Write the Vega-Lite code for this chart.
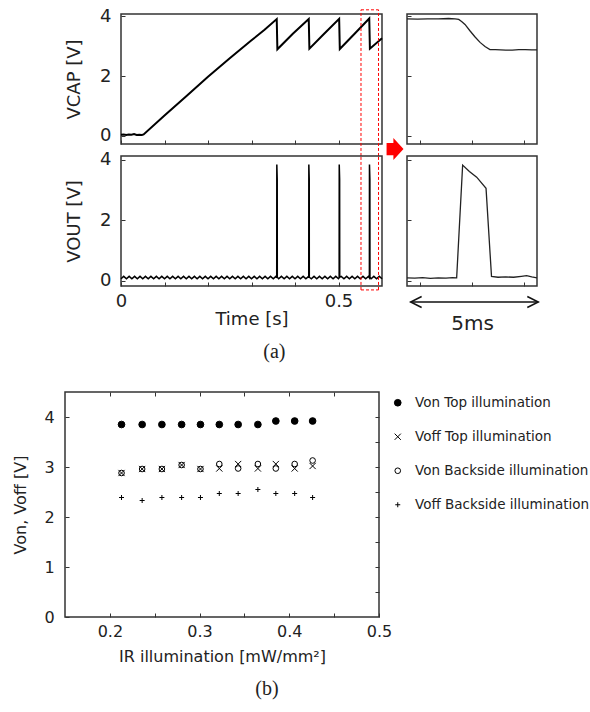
{
  "$schema": "https://vega.github.io/schema/vega-lite/v6.json",
  "background": "white",
  "padding": {"left": 11, "top": 6, "right": 0, "bottom": 0},
  "spacing": 27,
  "resolve": {"legend": {"shape": "independent", "fill": "independent", "size": "independent", "stroke": "independent"}},
  "config": {
    "font": "DejaVu Sans",
    "view": {"stroke": "#333", "strokeWidth": 1.5},
    "axis": {"domain": false, "grid": false, "tickColor": "#333", "tickWidth": 1, "labelColor": "#222", "titleColor": "#222", "titleFontWeight": "normal", "labelFont": "DejaVu Sans", "titleFont": "DejaVu Sans", "labelFlush": false, "labelOverlap": false},
    "title": {"font": "Liberation Serif", "fontSize": 20, "fontWeight": "normal", "color": "#222"}
  },
  "datasets": {
    "vcap": [
      {"t": 0, "v": 0.04}, {"t": 0.006, "v": 0.05}, {"t": 0.012, "v": 0.03}, {"t": 0.018, "v": 0.05}, {"t": 0.024, "v": 0.04}, {"t": 0.03, "v": 0.06}, {"t": 0.036, "v": 0.03}, {"t": 0.042, "v": 0.04}, {"t": 0.048, "v": 0.03}, {"t": 0.052, "v": 0.05},
      {"t": 0.1, "v": 0.68}, {"t": 0.15, "v": 1.33}, {"t": 0.2, "v": 1.98}, {"t": 0.25, "v": 2.6}, {"t": 0.3, "v": 3.2}, {"t": 0.33, "v": 3.55}, {"t": 0.358, "v": 3.91},
      {"t": 0.3595, "v": 2.9}, {"t": 0.395, "v": 3.42}, {"t": 0.4316, "v": 3.91},
      {"t": 0.4331, "v": 2.92}, {"t": 0.467, "v": 3.42}, {"t": 0.5015, "v": 3.92},
      {"t": 0.503, "v": 2.91}, {"t": 0.537, "v": 3.42}, {"t": 0.5707, "v": 3.93},
      {"t": 0.5722, "v": 2.92}, {"t": 0.6, "v": 3.27}
    ],
    "vout": [
      {"t": 0, "v": 0.07}, {"t": 0.00625, "v": 0.15}, {"t": 0.0125, "v": 0.07}, {"t": 0.01875, "v": 0.15}, {"t": 0.025, "v": 0.07}, {"t": 0.03125, "v": 0.15}, {"t": 0.0375, "v": 0.07}, {"t": 0.04375, "v": 0.15}, {"t": 0.05, "v": 0.07}, {"t": 0.05625, "v": 0.15},
      {"t": 0.0625, "v": 0.07}, {"t": 0.06875, "v": 0.15}, {"t": 0.075, "v": 0.07}, {"t": 0.08125, "v": 0.15}, {"t": 0.0875, "v": 0.07}, {"t": 0.09375, "v": 0.15}, {"t": 0.1, "v": 0.07}, {"t": 0.10625, "v": 0.15}, {"t": 0.1125, "v": 0.07}, {"t": 0.11875, "v": 0.15},
      {"t": 0.125, "v": 0.07}, {"t": 0.13125, "v": 0.15}, {"t": 0.1375, "v": 0.07}, {"t": 0.14375, "v": 0.15}, {"t": 0.15, "v": 0.07}, {"t": 0.15625, "v": 0.15}, {"t": 0.1625, "v": 0.07}, {"t": 0.16875, "v": 0.15}, {"t": 0.175, "v": 0.07}, {"t": 0.18125, "v": 0.15},
      {"t": 0.1875, "v": 0.07}, {"t": 0.19375, "v": 0.15}, {"t": 0.2, "v": 0.07}, {"t": 0.20625, "v": 0.15}, {"t": 0.2125, "v": 0.07}, {"t": 0.21875, "v": 0.15}, {"t": 0.225, "v": 0.07}, {"t": 0.23125, "v": 0.15}, {"t": 0.2375, "v": 0.07}, {"t": 0.24375, "v": 0.15},
      {"t": 0.25, "v": 0.07}, {"t": 0.25625, "v": 0.15}, {"t": 0.2625, "v": 0.07}, {"t": 0.26875, "v": 0.15}, {"t": 0.275, "v": 0.07}, {"t": 0.28125, "v": 0.15}, {"t": 0.2875, "v": 0.07}, {"t": 0.29375, "v": 0.15}, {"t": 0.3, "v": 0.07}, {"t": 0.30625, "v": 0.15},
      {"t": 0.3125, "v": 0.07}, {"t": 0.31875, "v": 0.15}, {"t": 0.325, "v": 0.07}, {"t": 0.33125, "v": 0.15}, {"t": 0.3375, "v": 0.07}, {"t": 0.34375, "v": 0.15}, {"t": 0.35, "v": 0.07}, {"t": 0.35625, "v": 0.15},
      {"t": 0.358, "v": 0.1}, {"t": 0.3582, "v": 3.85}, {"t": 0.3591, "v": 3.35}, {"t": 0.3593, "v": 0.12},
      {"t": 0.3625, "v": 0.07}, {"t": 0.36875, "v": 0.15}, {"t": 0.375, "v": 0.07}, {"t": 0.38125, "v": 0.15}, {"t": 0.3875, "v": 0.07}, {"t": 0.39375, "v": 0.15}, {"t": 0.4, "v": 0.07}, {"t": 0.40625, "v": 0.15}, {"t": 0.4125, "v": 0.07}, {"t": 0.41875, "v": 0.15}, {"t": 0.425, "v": 0.07}, {"t": 0.43125, "v": 0.15},
      {"t": 0.4316, "v": 0.1}, {"t": 0.4318, "v": 3.85}, {"t": 0.4327, "v": 3.35}, {"t": 0.4329, "v": 0.12},
      {"t": 0.4375, "v": 0.07}, {"t": 0.44375, "v": 0.15}, {"t": 0.45, "v": 0.07}, {"t": 0.45625, "v": 0.15}, {"t": 0.4625, "v": 0.07}, {"t": 0.46875, "v": 0.15}, {"t": 0.475, "v": 0.07}, {"t": 0.48125, "v": 0.15}, {"t": 0.4875, "v": 0.07}, {"t": 0.49375, "v": 0.15}, {"t": 0.5, "v": 0.07},
      {"t": 0.5015, "v": 0.1}, {"t": 0.5017, "v": 3.85}, {"t": 0.5026, "v": 3.35}, {"t": 0.5028, "v": 0.12},
      {"t": 0.50625, "v": 0.15}, {"t": 0.5125, "v": 0.07}, {"t": 0.51875, "v": 0.15}, {"t": 0.525, "v": 0.07}, {"t": 0.53125, "v": 0.15}, {"t": 0.5375, "v": 0.07}, {"t": 0.54375, "v": 0.15}, {"t": 0.55, "v": 0.07}, {"t": 0.55625, "v": 0.15}, {"t": 0.5625, "v": 0.07}, {"t": 0.56875, "v": 0.15},
      {"t": 0.571, "v": 0.1}, {"t": 0.5712, "v": 3.85}, {"t": 0.5721, "v": 3.35}, {"t": 0.5723, "v": 0.12},
      {"t": 0.575, "v": 0.07}, {"t": 0.58125, "v": 0.15}, {"t": 0.5875, "v": 0.07}, {"t": 0.59375, "v": 0.15}, {"t": 0.6, "v": 0.07}
    ],
    "zcap": [
      {"t": 0, "v": 3.92}, {"t": 0.4, "v": 3.91}, {"t": 0.8, "v": 3.92}, {"t": 1.2, "v": 3.92}, {"t": 1.6, "v": 3.93}, {"t": 1.85, "v": 3.92}, {"t": 1.99, "v": 3.9}, {"t": 2.1, "v": 3.83}, {"t": 2.23, "v": 3.73}, {"t": 2.42, "v": 3.52}, {"t": 2.61, "v": 3.32}, {"t": 2.81, "v": 3.13}, {"t": 3.0, "v": 2.99}, {"t": 3.19, "v": 2.89}, {"t": 3.4, "v": 2.89}, {"t": 3.6, "v": 2.88}, {"t": 3.8, "v": 2.87}, {"t": 4.05, "v": 2.87}, {"t": 4.3, "v": 2.89}, {"t": 4.55, "v": 2.89}, {"t": 4.8, "v": 2.88}, {"t": 5, "v": 2.88}
    ],
    "zout": [
      {"t": 0, "v": 0.1}, {"t": 0.3, "v": 0.09}, {"t": 0.6, "v": 0.11}, {"t": 0.9, "v": 0.08}, {"t": 1.2, "v": 0.1}, {"t": 1.5, "v": 0.09}, {"t": 1.75, "v": 0.11}, {"t": 1.91, "v": 0.1}, {"t": 2.14, "v": 3.83}, {"t": 2.4, "v": 3.62}, {"t": 2.68, "v": 3.43}, {"t": 3.04, "v": 3.06}, {"t": 3.25, "v": 0.15}, {"t": 3.5, "v": 0.12}, {"t": 3.8, "v": 0.13}, {"t": 4.1, "v": 0.12}, {"t": 4.4, "v": 0.15}, {"t": 4.6, "v": 0.17}, {"t": 4.8, "v": 0.13}, {"t": 5, "v": 0.1}
    ],
    "redA": [
      {"t": 0.5517, "t2": 0.5517, "v": -0.67, "v2": 4.22},
      {"t": 0.592, "t2": 0.592, "v": -0.67, "v2": 4.22},
      {"t": 0.5517, "t2": 0.592, "v": 4.22, "v2": 4.22}
    ],
    "redB": [
      {"t": 0.5517, "t2": 0.5517, "v": -0.3, "v2": 4.13},
      {"t": 0.592, "t2": 0.592, "v": -0.3, "v2": 4.13},
      {"t": 0.5517, "t2": 0.592, "v": -0.3, "v2": -0.3}
    ],
    "redArrow": [{"t": -0.46, "v": -0.44}],
    "span": [{"t": 0.14, "t2": 5.05, "v": -0.7}],
    "pb": [
      {"x": 0.213, "y": 3.85, "s": "Von Top illumination"}, {"x": 0.236, "y": 3.85, "s": "Von Top illumination"}, {"x": 0.258, "y": 3.85, "s": "Von Top illumination"}, {"x": 0.28, "y": 3.85, "s": "Von Top illumination"}, {"x": 0.301, "y": 3.85, "s": "Von Top illumination"}, {"x": 0.322, "y": 3.85, "s": "Von Top illumination"}, {"x": 0.343, "y": 3.85, "s": "Von Top illumination"}, {"x": 0.365, "y": 3.85, "s": "Von Top illumination"}, {"x": 0.385, "y": 3.92, "s": "Von Top illumination"}, {"x": 0.406, "y": 3.92, "s": "Von Top illumination"}, {"x": 0.426, "y": 3.92, "s": "Von Top illumination"},
      {"x": 0.213, "y": 2.88, "s": "Voff Top illumination"}, {"x": 0.236, "y": 2.96, "s": "Voff Top illumination"}, {"x": 0.258, "y": 2.96, "s": "Voff Top illumination"}, {"x": 0.28, "y": 3.04, "s": "Voff Top illumination"}, {"x": 0.301, "y": 2.96, "s": "Voff Top illumination"}, {"x": 0.322, "y": 2.97, "s": "Voff Top illumination"}, {"x": 0.343, "y": 3.06, "s": "Voff Top illumination"}, {"x": 0.365, "y": 2.97, "s": "Voff Top illumination"}, {"x": 0.385, "y": 3.06, "s": "Voff Top illumination"}, {"x": 0.406, "y": 2.97, "s": "Voff Top illumination"}, {"x": 0.426, "y": 3.02, "s": "Voff Top illumination"},
      {"x": 0.213, "y": 2.88, "s": "Von Backside illumination"}, {"x": 0.236, "y": 2.96, "s": "Von Backside illumination"}, {"x": 0.258, "y": 2.96, "s": "Von Backside illumination"}, {"x": 0.28, "y": 3.04, "s": "Von Backside illumination"}, {"x": 0.301, "y": 2.96, "s": "Von Backside illumination"}, {"x": 0.322, "y": 3.06, "s": "Von Backside illumination"}, {"x": 0.343, "y": 2.97, "s": "Von Backside illumination"}, {"x": 0.365, "y": 3.06, "s": "Von Backside illumination"}, {"x": 0.385, "y": 2.97, "s": "Von Backside illumination"}, {"x": 0.406, "y": 3.06, "s": "Von Backside illumination"}, {"x": 0.426, "y": 3.13, "s": "Von Backside illumination"},
      {"x": 0.213, "y": 2.39, "s": "Voff Backside illumination"}, {"x": 0.236, "y": 2.33, "s": "Voff Backside illumination"}, {"x": 0.258, "y": 2.39, "s": "Voff Backside illumination"}, {"x": 0.28, "y": 2.39, "s": "Voff Backside illumination"}, {"x": 0.301, "y": 2.39, "s": "Voff Backside illumination"}, {"x": 0.322, "y": 2.47, "s": "Voff Backside illumination"}, {"x": 0.343, "y": 2.47, "s": "Voff Backside illumination"}, {"x": 0.365, "y": 2.55, "s": "Voff Backside illumination"}, {"x": 0.385, "y": 2.47, "s": "Voff Backside illumination"}, {"x": 0.406, "y": 2.47, "s": "Voff Backside illumination"}, {"x": 0.426, "y": 2.39, "s": "Voff Backside illumination"}
    ]
  },
  "vconcat": [
    {
      "spacing": -2,
      "title": {"text": "(a)", "orient": "bottom", "anchor": "middle", "dx": -29, "offset": 8},
      "hconcat": [
        {"width": 1, "height": 10, "data": {"values": []}, "mark": "point", "view": {"stroke": null}},
        {
          "bounds": "flush",
          "spacing": 12,
          "vconcat": [
            {
              "width": 261, "height": 130,
              "layer": [
                {
                  "data": {"name": "vcap"},
                  "mark": {"type": "line", "color": "black", "strokeWidth": 2},
                  "encoding": {
                    "x": {"field": "t", "type": "quantitative", "scale": {"domain": [0, 0.6], "nice": false, "zero": false},
                      "axis": {"values": [0, 0.05, 0.1, 0.15, 0.2, 0.25, 0.3, 0.35, 0.4, 0.45, 0.5, 0.55], "labels": false, "tickSize": -4, "title": null}},
                    "y": {"field": "v", "type": "quantitative", "scale": {"domain": [-0.27, 4.08], "nice": false, "zero": false},
                      "axis": {"values": [0, 0.5, 1, 1.5, 2, 2.5, 3, 3.5, 4], "format": "d", "labelExpr": "datum.value === 0 || datum.value === 2 || datum.value === 4 ? datum.label : ''", "tickSize": -4, "labelPadding": 14, "labelFontSize": 18, "title": "VCAP [V]", "titleFontSize": 18, "titlePadding": 16}}
                  }
                },
                {
                  "data": {"name": "redA"},
                  "mark": {"type": "rule", "color": "#ff0000", "strokeDash": [3, 2], "strokeWidth": 1},
                  "encoding": {"x": {"field": "t", "type": "quantitative"}, "x2": {"field": "t2"}, "y": {"field": "v", "type": "quantitative"}, "y2": {"field": "v2"}}
                }
              ]
            },
            {
              "width": 261, "height": 130,
              "layer": [
                {
                  "data": {"name": "vout"},
                  "mark": {"type": "line", "color": "black", "strokeWidth": 1.5},
                  "encoding": {
                    "x": {"field": "t", "type": "quantitative", "scale": {"domain": [0, 0.6], "nice": false, "zero": false},
                      "axis": {"values": [0, 0.05, 0.1, 0.15, 0.2, 0.25, 0.3, 0.35, 0.4, 0.45, 0.5, 0.55], "labelExpr": "datum.value === 0 ? '0' : datum.value === 0.5 ? '0.5' : ''", "tickSize": -4, "labelPadding": 10, "labelFontSize": 18, "title": "Time [s]", "titleFontSize": 18, "titlePadding": 0}},
                    "y": {"field": "v", "type": "quantitative", "scale": {"domain": [-0.17, 4.13], "nice": false, "zero": false},
                      "axis": {"values": [0, 0.5, 1, 1.5, 2, 2.5, 3, 3.5, 4], "format": "d", "labelExpr": "datum.value === 0 || datum.value === 2 || datum.value === 4 ? datum.label : ''", "tickSize": -4, "labelPadding": 14, "labelFontSize": 18, "title": "VOUT [V]", "titleFontSize": 18, "titlePadding": 16}}
                  }
                },
                {
                  "data": {"name": "redB"},
                  "mark": {"type": "rule", "color": "#ff0000", "strokeDash": [3, 2], "strokeWidth": 1},
                  "encoding": {"x": {"field": "t", "type": "quantitative"}, "x2": {"field": "t2"}, "y": {"field": "v", "type": "quantitative"}, "y2": {"field": "v2"}}
                }
              ]
            }
          ]
        },
        {
          "bounds": "flush",
          "spacing": 12,
          "vconcat": [
            {
              "width": 130, "height": 130,
              "layer": [
                {
                  "data": {"name": "zcap"},
                  "mark": {"type": "line", "color": "#222", "strokeWidth": 1.3},
                  "encoding": {
                    "x": {"field": "t", "type": "quantitative", "scale": {"domain": [0, 5], "nice": false, "zero": false},
                      "axis": {"values": [0.5, 1, 1.5, 2, 2.5, 3, 3.5, 4, 4.5], "labels": false, "tickSize": -4, "title": null}},
                    "y": {"field": "v", "type": "quantitative", "scale": {"domain": [-0.27, 4.08], "nice": false, "zero": false},
                      "axis": {"values": [0, 0.5, 1, 1.5, 2, 2.5, 3, 3.5, 4], "labels": false, "tickSize": -4, "title": null}}
                  }
                },
                {
                  "data": {"name": "redArrow"},
                  "mark": {"type": "point", "shape": "M-0.77,-0.55L-0.15,-0.55L-0.15,-1L0.77,0L-0.15,1L-0.15,0.55L-0.77,0.55Z", "size": 484, "filled": true, "color": "#ff0000", "opacity": 1},
                  "encoding": {"x": {"field": "t", "type": "quantitative"}, "y": {"field": "v", "type": "quantitative"}}
                }
              ]
            },
            {
              "width": 130, "height": 130,
              "layer": [
                {
                  "data": {"name": "zout"},
                  "mark": {"type": "line", "color": "#222", "strokeWidth": 1.3},
                  "encoding": {
                    "x": {"field": "t", "type": "quantitative", "scale": {"domain": [0, 5], "nice": false, "zero": false},
                      "axis": {"values": [0.5, 1, 1.5, 2, 2.5, 3, 3.5, 4, 4.5], "labels": false, "tickSize": -4, "title": "5ms", "titleFontSize": 20, "titlePadding": 27}},
                    "y": {"field": "v", "type": "quantitative", "scale": {"domain": [-0.17, 4.13], "nice": false, "zero": false},
                      "axis": {"values": [0, 0.5, 1, 1.5, 2, 2.5, 3, 3.5, 4], "labels": false, "tickSize": -4, "title": null}}
                  }
                },
                {
                  "data": {"name": "span"},
                  "mark": {"type": "rule", "color": "#111", "strokeWidth": 1.5},
                  "encoding": {"x": {"field": "t", "type": "quantitative"}, "x2": {"field": "t2"}, "y": {"field": "v", "type": "quantitative"}}
                },
                {
                  "data": {"name": "span"},
                  "mark": {"type": "point", "shape": "M2,-1L0,0L2,1", "size": 121, "filled": false, "color": "#111", "strokeWidth": 1.5, "opacity": 1},
                  "encoding": {"x": {"field": "t", "type": "quantitative"}, "y": {"field": "v", "type": "quantitative"}}
                },
                {
                  "data": {"name": "span"},
                  "mark": {"type": "point", "shape": "M-2,-1L0,0L-2,1", "size": 121, "filled": false, "color": "#111", "strokeWidth": 1.5, "opacity": 1},
                  "encoding": {"x": {"field": "t2", "type": "quantitative"}, "y": {"field": "v", "type": "quantitative"}}
                }
              ]
            }
          ]
        }
      ]
    },
    {
      "width": 314, "height": 225,
      "data": {"name": "pb"},
      "title": {"text": "(b)", "orient": "bottom", "anchor": "middle", "frame": "group", "dx": 45, "offset": 15},
      "layer": [
        {
          "mark": {"type": "point", "strokeWidth": 1, "opacity": 1},
          "encoding": {
            "x": {"field": "x", "type": "quantitative", "scale": {"domain": [0.15, 0.5], "nice": false, "zero": false},
              "axis": {"values": [0.2, 0.25, 0.3, 0.35, 0.4, 0.45, 0.5], "labelExpr": "datum.value === 0.2 || datum.value === 0.3 || datum.value === 0.4 || datum.value === 0.5 ? format(datum.value, '.1f') : ''", "tickSize": -4, "labelPadding": 10, "labelFontSize": 16, "title": "IR illumination [mW/mm²]", "titleFontSize": 16, "titlePadding": 9}},
            "y": {"field": "y", "type": "quantitative", "scale": {"domain": [0, 4.5], "nice": false, "zero": false},
              "axis": {"values": [0, 0.5, 1, 1.5, 2, 2.5, 3, 3.5, 4], "format": "d", "labelExpr": "datum.value % 1 === 0 ? datum.label : ''", "tickSize": -4, "labelPadding": 14.7, "labelFontSize": 16, "title": "Von, Voff [V]", "titleFontSize": 16, "titlePadding": 16}},
            "shape": {"field": "s", "type": "nominal",
              "scale": {"domain": ["Von Top illumination", "Voff Top illumination", "Von Backside illumination", "Voff Backside illumination"], "range": ["circle", "M-1,-1L1,1M-1,1L1,-1", "circle", "M-1,0L1,0M0,-1L0,1"]},
              "legend": {"title": null, "orient": "right", "offset": 7, "padding": 4, "rowPadding": 19, "labelFont": "DejaVu Sans", "labelFontSize": 13.5, "labelColor": "#222", "labelOffset": 10.5, "labelLimit": 300, "symbolStrokeWidth": 1}},
            "fill": {"field": "s", "type": "nominal",
              "scale": {"domain": ["Von Top illumination", "Voff Top illumination", "Von Backside illumination", "Voff Backside illumination"], "range": ["black", "transparent", "transparent", "transparent"]},
              "legend": {"title": null, "orient": "right", "offset": 7, "padding": 4, "rowPadding": 19, "labelFont": "DejaVu Sans", "labelFontSize": 13.5, "labelColor": "#222", "labelOffset": 10.5, "labelLimit": 300, "symbolStrokeWidth": 1}},
            "stroke": {"field": "s", "type": "nominal",
              "scale": {"domain": ["Von Top illumination", "Voff Top illumination", "Von Backside illumination", "Voff Backside illumination"], "range": ["black", "black", "black", "black"]},
              "legend": {"title": null, "orient": "right", "offset": 7, "padding": 4, "rowPadding": 19, "labelFont": "DejaVu Sans", "labelFontSize": 13.5, "labelColor": "#222", "labelOffset": 10.5, "labelLimit": 300, "symbolStrokeWidth": 1}},
            "size": {"field": "s", "type": "nominal",
              "scale": {"domain": ["Von Top illumination", "Voff Top illumination", "Von Backside illumination", "Voff Backside illumination"], "range": [45, 25, 25, 40]},
              "legend": {"title": null, "orient": "right", "offset": 7, "padding": 4, "rowPadding": 19, "labelFont": "DejaVu Sans", "labelFontSize": 13.5, "labelColor": "#222", "labelOffset": 10.5, "labelLimit": 300, "symbolStrokeWidth": 1}}
          }
        },
        {
          "mark": {"type": "point", "opacity": 0},
          "encoding": {
            "x": {"field": "x", "type": "quantitative", "axis": {"orient": "top", "values": [0.2, 0.25, 0.3, 0.35, 0.4, 0.45], "labels": false, "tickSize": -4, "title": null}},
            "y": {"field": "y", "type": "quantitative", "axis": {"orient": "right", "values": [0.5, 1, 1.5, 2, 2.5, 3, 3.5, 4], "labels": false, "tickSize": -4, "title": null}}
          }
        }
      ],
      "resolve": {"axis": {"x": "independent", "y": "independent"}}
    }
  ]
}
